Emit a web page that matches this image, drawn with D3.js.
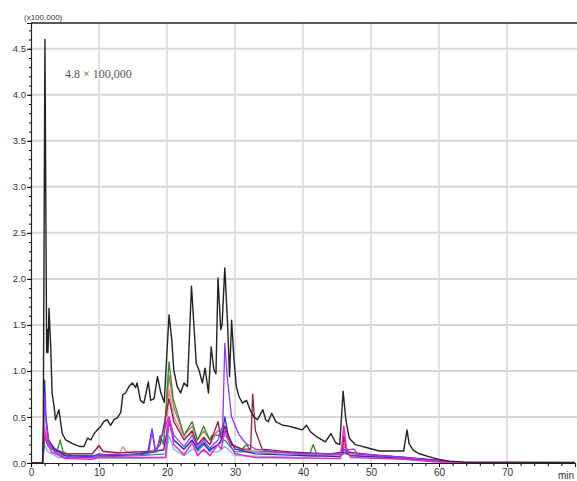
<!DOCTYPE html>
<html>
<head>
<meta charset="utf-8">
<script src="https://d3js.org/d3.v7.min.js"></script>
<style>
  body { margin: 0; background: #fff; }
  text { font-family: "Liberation Sans", Arial, sans-serif; }
</style>
</head>
<body>
<div id="vis"></div>
<script>
  // retention time (min) / intensity (x100,000) pairs
  var xTicks = [0, 10, 20, 30, 40, 50, 60, 70];
  var yTicks = [0.0, 0.5, 1.0, 1.5, 2.0, 2.5, 3.0, 3.5, 4.0, 4.5];

  var blackTrace = [[0,0],[1.7,0],[1.8,0.3],[2.05,4.6],[2.3,1.2],[2.4,1.45],[2.5,1.2],[2.65,1.68],[2.9,1.26],[3.1,0.76],[3.4,0.61],[3.6,0.47],[4.1,0.58],[4.6,0.32],[5.1,0.25],[6.1,0.21],[7.1,0.18],[7.8,0.18],[8.3,0.27],[8.8,0.25],[9.3,0.32],[9.75,0.36],[10.2,0.39],[10.7,0.45],[11.2,0.47],[11.7,0.41],[12.2,0.47],[12.7,0.49],[13.2,0.55],[13.5,0.74],[13.9,0.76],[14.4,0.83],[14.9,0.87],[15.4,0.82],[15.6,0.87],[16.1,0.68],[16.6,0.65],[17.25,0.88],[17.6,0.68],[18.1,0.7],[18.6,0.94],[19.1,0.76],[19.6,0.66],[19.9,1.08],[20.3,1.61],[20.7,1.34],[21.0,1.01],[21.5,0.83],[22.0,0.76],[22.5,0.87],[23.0,0.83],[23.6,1.92],[24.0,1.45],[24.3,1.08],[24.7,1.01],[25.2,0.87],[25.6,1.03],[26.1,0.76],[26.5,1.26],[26.9,1.01],[27.2,0.97],[27.5,2.01],[27.9,1.45],[28.1,1.5],[28.5,2.12],[28.9,1.52],[29.2,0.94],[29.5,1.55],[29.85,1.12],[30.2,0.83],[30.6,0.72],[31.1,0.65],[31.7,0.68],[32.2,0.58],[32.8,0.5],[33.3,0.47],[34.1,0.58],[34.5,0.47],[34.9,0.45],[35.4,0.54],[36.0,0.45],[37.0,0.41],[37.9,0.4],[38.9,0.38],[39.9,0.36],[40.5,0.41],[41.1,0.34],[42.1,0.28],[43.3,0.23],[44.1,0.32],[44.8,0.22],[45.4,0.2],[45.9,0.78],[46.3,0.47],[46.8,0.27],[47.7,0.2],[48.7,0.18],[49.7,0.16],[51.2,0.13],[53,0.13],[54.8,0.13],[55.3,0.36],[55.6,0.21],[56.2,0.14],[57.1,0.1],[58.5,0.07],[60,0.04],[61.5,0.02],[64,0.01],[70,0.01],[80,0.005]];

  var blueTrace = [[0,0],[1.7,0],[1.85,0.4],[2.0,0.9],[2.2,0.5],[2.6,0.25],[3.5,0.15],[5,0.08],[9,0.07],[10,0.1],[12,0.08],[16,0.1],[17.2,0.12],[17.8,0.37],[18.3,0.13],[19.5,0.14],[20.3,0.45],[21,0.25],[22.5,0.15],[23.7,0.25],[24.5,0.15],[25.4,0.22],[26.2,0.14],[27.5,0.2],[28.0,0.25],[28.5,0.5],[29,0.3],[30,0.15],[33,0.1],[40,0.08],[45.5,0.07],[46,0.12],[47,0.08],[55,0.05],[60,0.02],[63,0.005],[80,0]];
  var purpleTrace = [[0,0],[1.7,0],[1.85,0.3],[2.0,0.75],[2.2,0.45],[2.6,0.22],[3.5,0.12],[5,0.06],[9,0.06],[10,0.09],[16,0.09],[17.3,0.1],[17.8,0.35],[18.3,0.12],[20.3,0.5],[21,0.3],[22.5,0.18],[23.7,0.3],[24.5,0.17],[25.4,0.25],[26.3,0.16],[27.5,0.25],[28.2,0.4],[28.5,1.3],[28.9,0.9],[29.5,0.5],[30.5,0.32],[31.5,0.22],[33,0.15],[36,0.12],[40,0.1],[45.5,0.1],[46,0.14],[47.5,0.15],[48,0.1],[55,0.06],[60,0.02],[63,0.005],[80,0]];
  var magentaTrace = [[0,0],[1.7,0],[1.85,0.2],[2.0,0.35],[2.3,0.25],[3,0.12],[5,0.05],[9,0.04],[10,0.06],[16,0.06],[19.8,0.06],[20.3,0.5],[21,0.2],[22.5,0.09],[23.7,0.22],[24.5,0.08],[25.4,0.15],[26.3,0.08],[27.5,0.2],[28.0,0.15],[28.5,0.35],[29.3,0.2],[30,0.1],[33,0.06],[45.5,0.05],[46,0.4],[46.4,0.15],[47,0.06],[55,0.04],[60,0.01],[63,0],[80,0]];
  var pinkTrace = [[0,0],[1.7,0],[1.85,0.2],[2.0,0.4],[2.4,0.28],[3,0.18],[5,0.1],[9,0.1],[10,0.18],[10.6,0.12],[13,0.1],[13.5,0.18],[14,0.12],[16,0.12],[19.8,0.15],[20.3,0.8],[21,0.5],[22.5,0.28],[23.7,0.32],[24.5,0.2],[25.4,0.27],[26.3,0.2],[27.5,0.35],[28.5,0.4],[29.5,0.2],[31,0.14],[35,0.11],[40,0.1],[45.5,0.08],[46,0.2],[47,0.09],[55,0.05],[60,0.02],[63,0],[80,0]];
  var maroonTrace = [[0,0],[1.7,0],[1.85,0.15],[2.0,0.32],[2.5,0.22],[3.5,0.15],[5,0.1],[9,0.1],[10,0.19],[10.6,0.13],[13,0.11],[16,0.12],[18,0.12],[19,0.2],[20.3,0.7],[21,0.45],[22.5,0.25],[23.7,0.35],[24.5,0.2],[25.4,0.28],[26.3,0.2],[27.5,0.45],[28,0.25],[28.5,0.4],[29.5,0.2],[31,0.15],[32.3,0.15],[32.6,0.75],[33,0.35],[34,0.15],[38,0.12],[44,0.1],[45.8,0.12],[46,0.3],[46.4,0.12],[50,0.09],[55,0.06],[60,0.03],[63,0.005],[80,0]];
  var greenTrace = [[0,0],[1.7,0],[1.85,0.15],[2.0,0.3],[2.5,0.2],[3.8,0.12],[4.3,0.25],[4.7,0.12],[6,0.08],[9,0.08],[16,0.1],[18.5,0.12],[19.0,0.3],[19.5,0.2],[20.3,1.1],[20.9,0.7],[22.5,0.3],[23.7,0.45],[24.5,0.25],[25.4,0.4],[26.3,0.25],[26.6,0.3],[27.5,0.3],[28.5,0.35],[29.5,0.2],[31,0.15],[31.7,0.2],[32.3,0.13],[36,0.12],[41,0.1],[41.5,0.2],[42,0.1],[45.5,0.1],[46,0.2],[47,0.1],[55,0.06],[60,0.02],[63,0],[80,0]];
  var tealTrace = [[0,0],[1.7,0],[1.85,0.15],[2.0,0.28],[2.5,0.18],[4,0.1],[6,0.06],[16,0.08],[19.8,0.1],[20.3,0.45],[21,0.25],[22.5,0.15],[23.7,0.25],[24.5,0.13],[25.4,0.2],[26.3,0.13],[27.5,0.2],[28.5,0.25],[30,0.12],[35,0.12],[40,0.09],[45.5,0.08],[46,0.15],[47,0.08],[55,0.05],[60,0.02],[63,0],[80,0]];
  var brownTrace = [[0,0],[1.7,0],[1.85,0.15],[2.0,0.3],[2.5,0.2],[4,0.12],[6,0.08],[13,0.08],[16,0.1],[18.5,0.15],[19,0.28],[19.5,0.2],[20.3,0.95],[21,0.6],[22.5,0.3],[23.7,0.4],[24.5,0.25],[25.4,0.35],[26.3,0.25],[27.5,0.35],[28.5,0.3],[29.5,0.2],[31,0.14],[35,0.1],[38,0.12],[40,0.09],[45.5,0.08],[46,0.18],[47,0.09],[55,0.05],[60,0.02],[63,0],[80,0]];
  var lightBlueTrace = [[0,0],[1.7,0],[1.85,0.1],[2.0,0.2],[2.5,0.12],[4,0.06],[16,0.05],[19.8,0.06],[20.3,0.3],[21,0.15],[22.5,0.08],[23.7,0.15],[25.4,0.12],[27.5,0.12],[28.5,0.18],[30,0.08],[40,0.06],[46,0.1],[55,0.04],[60,0.01],[63,0],[80,0]];

  var traces = [
    { data: lightBlueTrace, color: '#66bbee', w: 1.3 },
    { data: tealTrace, color: '#119999', w: 1.3 },
    { data: brownTrace, color: '#b08050', w: 1.3 },
    { data: greenTrace, color: '#338833', w: 1.3 },
    { data: pinkTrace, color: '#ff77aa', w: 1.3 },
    { data: maroonTrace, color: '#882244', w: 1.3 },
    { data: blueTrace, color: '#2233cc', w: 1.3 },
    { data: purpleTrace, color: '#9933ff', w: 1.3 },
    { data: magentaTrace, color: '#ff22cc', w: 1.5 },
    { data: blackTrace, color: '#222', w: 1.4 }
  ];

  var width = 577, height = 481;

  var svg = d3.select('#vis')
    .append('svg')
    .attr('width', width)
    .attr('height', height)
    .style('background', '#fff');

  var x = d3.scaleLinear().domain([0, 80]).range([31, 575]);
  var y = d3.scaleLinear().domain([0, 4.78]).range([463, 23]);

  // grid
  svg.append('g')
    .selectAll('line')
    .data(xTicks.slice(1))
    .enter().append('line')
    .attr('x1', d => x(d)).attr('x2', d => x(d))
    .attr('y1', y(4.78)).attr('y2', y(0))
    .attr('stroke', '#c4c4c4').attr('stroke-width', 1);

  svg.append('g')
    .selectAll('line')
    .data(yTicks.slice(1))
    .enter().append('line')
    .attr('x1', x(0)).attr('x2', width)
    .attr('y1', d => y(d)).attr('y2', d => y(d))
    .attr('stroke', '#d8d8d8').attr('stroke-width', 2);

  // traces
  var line = d3.line()
    .x(d => x(d[0]))
    .y(d => y(d[1]));

  svg.append('g')
    .selectAll('path')
    .data(traces)
    .enter().append('path')
    .attr('d', d => line(d.data))
    .attr('fill', 'none')
    .attr('stroke', d => d.color)
    .attr('stroke-width', d => d.w)
    .attr('stroke-linejoin', 'round');

  // axes
  svg.append('g')
    .attr('transform', 'translate(' + x(0) + ',0)')
    .call(d3.axisLeft(y).ticks(48).tickSize(2).tickFormat(''))
    .call(g => g.select('.domain').remove());

  svg.append('g')
    .attr('transform', 'translate(' + x(0) + ',0)')
    .call(d3.axisLeft(y).tickValues(yTicks).tickSize(4).tickPadding(1).tickFormat(d3.format('.1f')))
    .call(g => g.selectAll('text').attr('font-size', 9.5).attr('fill', '#333'))
    .call(g => g.select('.domain').attr('stroke', '#222').attr('stroke-width', 1.2));

  svg.append('g')
    .attr('transform', 'translate(0,' + y(0) + ')')
    .call(d3.axisBottom(x).ticks(40).tickSize(3).tickFormat(''))
    .call(g => g.select('.domain').remove());

  svg.append('g')
    .attr('transform', 'translate(0,' + y(0) + ')')
    .call(d3.axisBottom(x).tickValues(xTicks).tickSize(4).tickPadding(2))
    .call(g => g.selectAll('text').attr('font-size', 10).attr('fill', '#333'))
    .call(g => g.select('.domain').attr('stroke', '#222').attr('stroke-width', 1.2));

  svg.append('line')
    .attr('x1', x(0)).attr('x2', width)
    .attr('y1', y(4.78)).attr('y2', y(4.78))
    .attr('stroke', '#222').attr('stroke-width', 1.3);

  svg.append('text')
    .attr('x', 566).attr('y', 479)
    .attr('font-size', 10).attr('fill', '#333')
    .attr('text-anchor', 'middle')
    .text('min');

  svg.append('text')
    .attr('x', 24).attr('y', 20)
    .attr('font-size', 8).attr('fill', '#333')
    .text('(x100,000)');

  svg.append('text')
    .attr('x', 65).attr('y', 78)
    .attr('font-size', 12)
    .attr('fill', '#555')
    .style('font-family', '"Liberation Serif", serif')
    .text('4.8 \u00d7 100,000');
</script>
</body>
</html>
